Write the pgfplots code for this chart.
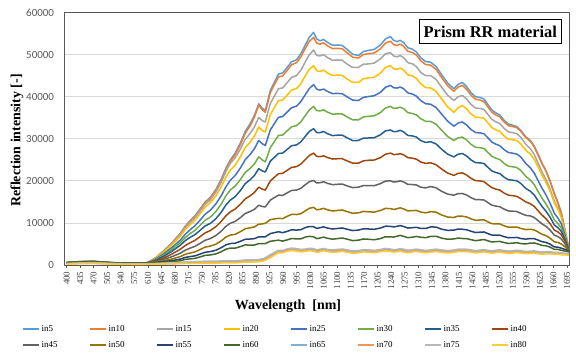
\documentclass[border=0pt]{standalone}
\usepackage{fontspec}
\setmainfont{Liberation Serif}
\newfontfamily\carlito{Carlito}
\usepackage{pgfplots}
\usepackage{pgfplotstable}
\pgfplotsset{compat=1.18}

% Office palette, one colour per incidence series
\definecolor{c5}{HTML}{5B9BD5}
\definecolor{c10}{HTML}{ED7D31}
\definecolor{c15}{HTML}{A5A5A5}
\definecolor{c20}{HTML}{FFC000}
\definecolor{c25}{HTML}{4472C4}
\definecolor{c30}{HTML}{70AD47}
\definecolor{c35}{HTML}{255E91}
\definecolor{c40}{HTML}{9E480E}
\definecolor{c45}{HTML}{636363}
\definecolor{c50}{HTML}{997300}
\definecolor{c55}{HTML}{264478}
\definecolor{c60}{HTML}{43682B}
\definecolor{c65}{HTML}{7CAFDD}
\definecolor{c70}{HTML}{F1975A}
\definecolor{c75}{HTML}{B7B7B7}
\definecolor{c80}{HTML}{FFCD33}
\definecolor{tickgray}{HTML}{595959}
\definecolor{gridgray}{HTML}{D9D9D9}

% Reflection intensity spectra [-] versus wavelength [nm]
\pgfplotstableread{
lam  in5   in10  in15  in20  in25  in30  in35  in40  in45  in50  in55  in60  in65 in70 in75 in80
400  600   580   570   560   560   550   540   540   530   520   510   500   300  250  350  200
435  820   800   790   780   770   760   750   740   730   720   700   690   450  380  500  320
470  880   860   850   840   830   820   810   800   790   780   760   750   500  420  560  380
505  640   630   620   610   600   590   580   570   560   550   540   530   350  300  400  250
540  460   450   450   440   440   430   430   420   420   410   410   400   250  200  300  180
575  420   410   410   400   400   390   390   380   380   370   370   360   200  170  250  150
600  430   420   420   410   410   400   400   390   390   380   380   370   200  170  260  150
610  600   590   580   570   560   550   540   530   520   510   500   490   250  200  300  180
630  1700  1680  1630  1560  1390  1260  1130  960   830   700   610   540   290  230  360  200
650  3300  3250  3150  3000  2600  2300  2000  1600  1300  1000  800   650   350  280  450  250
672  5250  5175  5025  4750  4130  3680  3230  2585  1960  1410  1025  750   425  330  535  285
694  7500  7400  7200  6800  5900  5300  4700  3750  2800  2000  1400  1000  500  380  620  320
707  9250  9125  8900  8425  7325  6555  5810  4645  3535  2550  1805  1330  580  435  715  380
720  10600 10450 10200 9650  8430  7490  6600  5300  4030  2860  2010  1460  600  430  750  380
732  11700 11525 11250 10660 9335  8255  7215  5860  4425  3115  2175  1565  620  445  770  375
745  13300 13100 12800 12170 10640 9420  8230  6720  5120  3670  2590  1920  700  520  850  430
758  14950 14750 14400 13740 12040 10610 9265  7615  5860  4240  3020  2285  755  570  915  470
772  16100 15900 15500 14810 13040 11400 9900  8210  6300  4510  3200  2400  750  560  920  450
786  17950 17700 17295 16405 14520 12710 10995 9105  6990  4950  3510  2630  735  540  910  425
800  20400 20100 19690 18600 16480 14500 12570 10360 8040  5750  4120  3160  800  600  980  480
812  23000 22700 22245 20905 18565 16430 14260 11690 9185  6635  4785  3760  865  670  1040 540
823  24900 24600 24100 22510 20090 17800 15390 12600 9910  7100  5100  4010  850  660  1020 520
836  26600 26250 25475 23760 21290 18765 16250 13305 10360 7280  5175  4000  840  630  1000 490
850  29100 28700 27650 25810 23130 20370 17750 14490 11290 7940  5650  4390  950  720  1100 580
862  31750 31300 29885 27920 25040 21995 19340 15715 12250 8630  6115  4765  1040 825  1190 670
875  33600 33100 31320 29230 26310 22980 20290 16460 12730 8840  6180  4740  1050 850  1200 680
886  35600 35200 32860 30665 27675 24060 21315 17270 13255 9060  6265  4745  1080 860  1230 710
897  38300 38000 35100 32800 29600 25700 22900 18500 14200 9700  6700  5100  1150 920  1300 780
906  37300 36900 34320 32000 28830 24990 22380 18050 13910 9770  6680  5070  1300 1100 1450 900
914  36700 36300 34000 31600 28400 24500 22100 17800 13800 9900  6700  5100  1500 1250 1700 1100
927  41500 41000 38390 35730 32120 27890 24690 20000 15440 10790 7470  5640  2200 1950 2450 1750
948  45400 44700 41900 39100 35100 30800 26500 21700 16600 11100 7900  5900  3300 3050 3500 2900
959  45650 44950 42100 39200 35300 30900 26600 21800 16560 11020 7700  5680  3250 3030 3450 2880
970  46900 46200 43290 40330 36300 31850 27440 22470 17120 11540 7970  5960  3600 3400 3800 3250
982  48300 47600 44600 41600 37400 32850 28350 23200 17730 12040 8360  6300  3830 3630 4030 3450
995  48800 48100 45040 41970 37770 33140 28550 23380 17810 12000 8300  6200  3700 3500 3900 3300
1006 50200 49450 46300 43100 38850 34040 29280 24000 18230 12200 8400  6220  3490 3320 3690 3120
1018 52400 51600 48370 45060 40560 35580 30650 25100 19130 12890 8910  6650  3600 3450 3800 3250
1028 54150 53150 50000 46500 41970 36880 31760 26030 19800 13480 9150  6820  3750 3550 3970 3400
1039 55300 54100 51100 47400 42900 37700 32400 26600 20100 13700 9100  6700  3650 3400 3900 3300
1047 53750 52750 49840 46150 41800 36720 31490 25840 19500 13130 8700  6280  3350 3150 3600 3000
1055 53300 52500 49680 46000 41570 36620 31450 25740 19560 13220 8850  6400  3500 3350 3750 3150
1065 53600 52800 49990 46325 41815 36880 31730 25945 19785 13470 9065  6625  3725 3525 3925 3375
1075 52900 52100 49300 45650 41260 36340 31210 25550 19410 13120 8780  6350  3550 3300 3700 3200
1088 52250 51450 48670 45040 40745 35855 30755 25195 19090 12835 8555  6140  3385 3160 3560 3010
1101 52300 51500 48740 45130 40790 35930 30860 25260 19190 12970 8680  6280  3500 3300 3700 3100
1113 52200 51400 48675 45100 40720 35905 30885 25260 19250 13085 8800  6420  3610 3410 3810 3235
1125 51300 50500 47810 44270 40010 35240 30270 24780 18830 12720 8520  6160  3400 3200 3600 3050
1140 50100 49400 46955 43385 39195 34510 29575 24220 18395 12290 8185  5805  3120 2920 3345 2795
1155 49800 49200 47000 43400 39100 34500 29600 24200 18500 12400 8300  5900  3200 3000 3450 2900
1168 50750 50050 47745 44285 39850 35200 30175 24755 18895 12735 8610  6185  3440 3215 3665 3115
1180 51000 50200 47790 44470 40040 35340 30190 24890 18870 12650 8570  6120  3400 3150 3600 3050
1196 51250 50400 48000 44640 40230 35470 30255 24965 18870 12570 8480  6000  3290 3065 3490 2940
1212 52300 51400 49010 45610 41060 36240 30960 25520 19350 12970 8790  6280  3500 3300 3700 3150
1225 53750 52750 50205 46955 42240 37330 31890 26330 19945 13455 9220  6715  3705 3505 3930 3355
1238 54300 53200 50500 47400 42700 37700 32100 26600 20000 13400 9200  6700  3550 3350 3800 3200
1246 53400 52400 49695 46660 42140 37250 31685 26260 19725 13210 9045  6625  3405 3205 3630 3055
1255 53100 52200 49490 46520 42060 37280 31750 26280 19810 13380 9190  6850  3500 3300 3700 3150
1263 53400 52500 49795 46830 42300 37530 32010 26475 20010 13595 9370  7035  3660 3435 3885 3285
1272 52900 52000 49300 46340 41900 37140 31630 26190 19730 13330 9150  6820  3500 3250 3750 3100
1283 51650 50800 48105 45190 40905 36215 30795 25520 19160 12860 8785  6495  3295 3070 3520 2920
1295 51300 50500 47810 44940 40630 36010 30680 25390 19130 12930 8870  6620  3450 3250 3650 3100
1305 50650 49900 47155 44370 40145 35685 30420 25155 19025 12975 8960  6785  3590 3365 3790 3215
1316 49300 48600 45800 43100 39100 34800 29600 24500 18500 12600 8700  6600  3450 3200 3650 3050
1329 48350 47650 45010 42190 38340 34145 29135 24155 18335 12400 8680  6500  3265 3040 3465 2890
1342 48200 47500 45020 42080 38220 34130 29310 24290 18650 12680 9060  6800  3400 3200 3600 3050
1356 47200 46500 44115 41265 37430 33460 28785 23830 18360 12565 9015  6820  3580 3355 3780 3205
1370 45300 44600 42310 39550 35920 32070 27540 22830 17530 11910 8520  6390  3400 3150 3600 3000
1386 43250 42600 40355 37575 34180 30555 26340 21855 16855 11395 8235  6120  3235 3010 3435 2860
1402 41900 41300 39100 36300 33000 29600 25700 21300 16600 11300 8300  6200  3350 3150 3550 3000
1413 42950 42300 40000 37400 33740 30240 26340 21780 16980 11630 8550  6400  3570 3345 3770 3195
1424 43400 42700 40300 37900 34000 30400 26500 21900 17000 11600 8500  6300  3550 3300 3750 3150
1435 42400 41750 39455 37130 33275 29710 25915 21380 16635 11415 8370  6265  3555 3330 3755 3180
1446 41000 40400 38210 35960 32230 28700 25010 20620 16030 10990 8040  6030  3400 3200 3600 3050
1458 40000 39400 37310 35110 31495 27980 24325 20060 15535 10610 7720  5780  3215 3015 3415 2865
1470 39800 39200 37210 35060 31400 27900 24280 19980 15520 10710 7800  5930  3350 3150 3550 3000
1480 39450 38850 36970 34880 31185 27695 24120 19805 15450 10745 7855  6055  3485 3285 3685 3135
1489 38300 37700 35930 33900 30330 26850 23320 19150 14900 10300 7510  5780  3300 3100 3500 2950
1500 36900 36350 34645 32675 29255 25850 22385 18395 14245 9825  7130  5485  3160 2935 3360 2810
1510 36200 35700 34060 32150 28740 25410 22010 18060 14010 9770  7100  5540  3300 3050 3500 2950
1521 35650 35200 33615 31765 28360 25060 21725 17790 13855 9755  7095  5610  3415 3190 3615 3065
1532 34400 34000 32470 30680 27420 24150 20880 17100 13280 9320  6740  5330  3250 3050 3450 2900
1543 33500 33150 31655 29915 26750 23505 20275 16605 12850 8980  6475  5120  3105 2905 3305 2755
1555 33200 32900 31440 29750 26560 23340 20150 16470 12780 9000  6510  5210  3200 3000 3400 2850
1565 32900 32650 31220 29575 26370 23160 20015 16315 12720 9030  6555  5305  3320 3095 3520 2970
1575 32000 31800 30400 28800 25700 22500 19400 15800 12300 8700  6300  5100  3200 2950 3400 2850
1588 30500 30300 28725 27285 24155 21105 18220 15000 11800 8420  6150  5005  3030 2805 3230 2680
1600 29600 29400 27650 26370 23090 20190 17520 14560 11660 8500  6300  5210  3100 2900 3300 2750
1610 28300 28100 26280 25160 21855 19105 16670 13935 11295 8325  6255  5235  3150 2950 3350 2825
1619 26500 26300 24410 23450 20220 17620 15420 13010 10630 7900  5960  5010  3000 2800 3200 2700
1630 24250 24100 22170 21340 18280 15900 13935 11870 9780  7300  5545  4665  2875 2675 3075 2575
1640 22500 22400 20430 19730 16740 14580 12850 11030 9230  7000  5380  4570  2950 2750 3150 2650
1651 20000 19900 18065 17515 14720 12840 11375 9815  8315  6375  4965  4260  2975 2800 3175 2700
1662 17000 16900 15200 14800 12300 10700 9500  8300  7100  5500  4300  3700  2800 2650 3000 2550
1671 14950 14800 13550 13250 11210 9910  8910  7870  6770  5370  4250  3700  2830 2680 3030 2580
1680 12500 12300 11500 11300 9800  8800  8000  7200  6200  5000  4000  3500  2700 2550 2900 2450
1690 8200  8000  7800  7600  7000  6500  6000  5600  5000  4300  3700  3300  2600 2500 2800 2400
1700 3800  3700  3700  3600  3600  3500  3500  3400  3400  3300  3200  3100  2500 2400 2700 2300
}\spectra

\begin{document}
\begin{tikzpicture}
\useasboundingbox (-64bp,-91bp) rectangle (512bp,265bp);
\begin{axis}[
  at={(0,0)}, anchor=south west,
  scale only axis, width=505bp, height=252.4bp,
  xmin=393, xmax=1700, ymin=0, ymax=60000,
  axis line style={draw=black!65, line width=0.8bp},
  ymajorgrids, grid style={draw=gridgray, line width=0.8bp},
  ytick={0,10000,...,60000},
  xtick={400,435,...,1695},
  scaled y ticks=false,
  /pgf/number format/1000 sep={},
  /pgf/number format/assume math mode=true,
  yticklabel style={font=\carlito\fontsize{11}{11}\selectfont, text=tickgray, xshift=-3.5bp},
  xticklabel style={rotate=90, anchor=east, font=\fontsize{9}{9}\selectfont, text=black!75},
  tick align=outside, xtick pos=bottom, ytick pos=left,
  major tick length=3bp,
  ytick style={draw=none},
  xtick style={draw=black!65, line width=0.6bp},
  xlabel={Wavelength\enspace[nm]},
  xlabel style={at={(axis description cs:0.4436,0)}, anchor=center, yshift=-41bp,
                font=\bfseries\fontsize{14}{14}\selectfont},
  ylabel={Reflection intensity [-]},
  % the label is rotated, so its local y axis points to the left
  ylabel style={at={(axis description cs:0,0.493)}, anchor=center, yshift=47bp,
                font=\bfseries\fontsize{14}{14}\selectfont},
  no markers,
  every axis plot/.append style={line width=1.5bp, line join=round},
  legend columns=8,
  legend cell align=left,
  legend image code/.code={\draw[#1, line width=1.5bp] (0bp,0bp) -- (16bp,0bp);},
  legend style={at={(axis description cs:-0.0832,0)}, anchor=north west, yshift=-60bp,
                draw=none, fill=none, inner sep=0bp, row sep=8bp,
                font=\fontsize{9}{9}\selectfont,
                nodes={text width=44bp, inner xsep=2bp, inner ysep=0bp,
                       text height=6.5bp, text depth=1.5bp},
                /tikz/every even column/.append style={column sep=1.5bp}},
]
\addplot[c5]  table[x=lam, y=in5]  {\spectra}; \addlegendentry{in5}
\addplot[c10] table[x=lam, y=in10] {\spectra}; \addlegendentry{in10}
\addplot[c15] table[x=lam, y=in15] {\spectra}; \addlegendentry{in15}
\addplot[c20] table[x=lam, y=in20] {\spectra}; \addlegendentry{in20}
\addplot[c25] table[x=lam, y=in25] {\spectra}; \addlegendentry{in25}
\addplot[c30] table[x=lam, y=in30] {\spectra}; \addlegendentry{in30}
\addplot[c35] table[x=lam, y=in35] {\spectra}; \addlegendentry{in35}
\addplot[c40] table[x=lam, y=in40] {\spectra}; \addlegendentry{in40}
\addplot[c45] table[x=lam, y=in45] {\spectra}; \addlegendentry{in45}
\addplot[c50] table[x=lam, y=in50] {\spectra}; \addlegendentry{in50}
\addplot[c55] table[x=lam, y=in55] {\spectra}; \addlegendentry{in55}
\addplot[c60] table[x=lam, y=in60] {\spectra}; \addlegendentry{in60}
\addplot[c65] table[x=lam, y=in65] {\spectra}; \addlegendentry{in65}
\addplot[c70] table[x=lam, y=in70] {\spectra}; \addlegendentry{in70}
\addplot[c75] table[x=lam, y=in75] {\spectra}; \addlegendentry{in75}
\addplot[c80] table[x=lam, y=in80] {\spectra}; \addlegendentry{in80}
\node[draw=black, line width=0.9bp, fill=white, anchor=north east,
      font=\bfseries\fontsize{16.5}{16.5}\selectfont, inner xsep=4.5bp, inner ysep=6.5bp]
  at (rel axis cs:0.986,0.975) {Prism RR material};
\end{axis}
\end{tikzpicture}
\end{document}
